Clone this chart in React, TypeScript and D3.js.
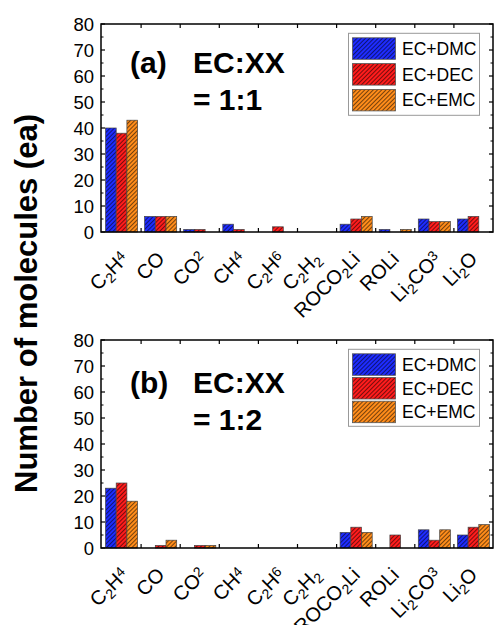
import React from 'react';
import * as d3 from 'd3';

// categories (x) and their rich labels: [text, shift]
const categories = ['C2H4', 'CO', 'CO2', 'CH4', 'C2H6', 'C2H2', 'ROCO2Li', 'ROLi', 'Li2CO3', 'Li2O'];
const tickLabels: [string, string][][] = [
  [['C', ''], ['2', 'sub'], ['H', ''], ['4', 'sup']],
  [['CO', '']],
  [['CO', ''], ['2', 'sup']],
  [['CH', ''], ['4', 'sup']],
  [['C', ''], ['2', 'sub'], ['H', ''], ['6', 'sup']],
  [['C', ''], ['2', 'sub'], ['H', ''], ['2', 'sub']],
  [['ROCO', ''], ['2', 'sub'], ['Li', '']],
  [['ROLi', '']],
  [['Li', ''], ['2', 'sub'], ['CO', ''], ['3', 'sup']],
  [['Li', ''], ['2', 'sub'], ['O', '']],
];

const seriesNames = ['EC+DMC', 'EC+DEC', 'EC+EMC'];
const seriesColors = ['#1e2cff', '#ff1c1c', '#ff8c1a'];

// panel (a) EC:XX = 1:1
const dmc11 = [40, 6, 1, 3, 0, 0, 3, 1, 5, 5];
const dec11 = [38, 6, 1, 1, 2, 0, 5, 0, 4, 6];
const emc11 = [43, 6, 0, 0, 0, 0, 6, 1, 4, 0];
// panel (b) EC:XX = 1:2
const dmc12 = [23, 0, 0, 0, 0, 0, 6, 0, 7, 5];
const dec12 = [25, 1, 1, 0, 0, 0, 8, 5, 3, 8];
const emc12 = [18, 3, 1, 0, 0, 0, 6, 0, 7, 9];

const yTicks = [0, 10, 20, 30, 40, 50, 60, 70, 80];

const FONT = '"Liberation Sans", Arial, sans-serif';
const left = 101;
const right = 493;

const panels = [
  { id: 'a', tag: '(a)', ratio: '= 1:1', top: 24, bottom: 232, values: [dmc11, dec11, emc11], textDy: 0, legStep: 25.8, legH: 82 },
  { id: 'b', tag: '(b)', ratio: '= 1:2', top: 340, bottom: 548, values: [dmc12, dec12, emc12], textDy: 4, legStep: 23.7, legH: 77 },
];

const x = d3.scaleBand().domain(categories).range([102, right]).paddingInner(0).paddingOuter(0);
const inner = d3
  .scaleBand()
  .domain(seriesNames)
  .range([3.5, x.bandwidth() - 3.5])
  .padding(0);

const Panel = ({ p }) => {
  const y = d3.scaleLinear().domain([0, 80]).range([p.bottom, p.top]);
  const minor = d3.range(5, 80, 10);
  const bounds = categories.slice(1).map(c => x(c));
  const legX = 348.5;
  const legY = p.top + 9.3;
  return (
    <g>
      {/* bars */}
      {p.values.map((vals, si) => (
        <g key={si} fill={`url(#hatch${si})`} stroke="#444" strokeWidth={0.7}>
          {vals.map((v, ci) =>
            v > 0 ? (
              <rect
                key={ci}
                x={x(categories[ci]) + inner(seriesNames[si])}
                y={y(v)}
                width={inner.bandwidth()}
                height={y(0) - y(v)}
              />
            ) : null
          )}
        </g>
      ))}

      {/* frame */}
      <rect x={left} y={p.top} width={right - left} height={p.bottom - p.top} fill="none" stroke="#000" strokeWidth={1.5} />

      {/* y ticks left & right */}
      {yTicks.map(t => (
        <g key={t}>
          <line x1={left} x2={left + 4} y1={y(t)} y2={y(t)} stroke="#000" strokeWidth={1.2} />
          <line x1={right} x2={right - 4} y1={y(t)} y2={y(t)} stroke="#000" strokeWidth={1.2} />
          <text x={94} y={y(t)} dy="0.36em" textAnchor="end" fontSize={18.5} fontFamily={FONT}>
            {t}
          </text>
        </g>
      ))}
      {minor.map(t => (
        <g key={t}>
          <line x1={left} x2={left + 2.5} y1={y(t)} y2={y(t)} stroke="#000" strokeWidth={1} />
          <line x1={right} x2={right - 2.5} y1={y(t)} y2={y(t)} stroke="#000" strokeWidth={1} />
        </g>
      ))}

      {/* x ticks top & bottom */}
      {bounds.map((bx, i) => (
        <g key={i}>
          <line x1={bx} x2={bx} y1={p.bottom} y2={p.bottom - 4} stroke="#000" strokeWidth={1.2} />
          <line x1={bx} x2={bx} y1={p.top} y2={p.top + 4} stroke="#000" strokeWidth={1.2} />
        </g>
      ))}

      {/* x labels */}
      {categories.map((c, i) => {
        const parts = tickLabels[i];
        const endsSup = parts[parts.length - 1][1] === 'sup';
        const cx = x(c) + x.bandwidth() / 2 + (endsSup ? 8 : 5);
        const cy = p.bottom + 28;
        return (
          <text
            key={c}
            transform={`translate(${cx},${cy}) rotate(-45)`}
            textAnchor="end"
            fontSize={20}
            fontFamily={FONT}
          >
            {parts.map(([s, k], j) =>
              k === '' ? (
                <tspan key={j}>{s}</tspan>
              ) : (
                <tspan key={j} fontSize={14} baselineShift={k === 'sub' ? '-4' : '5'}>
                  {s}
                </tspan>
              )
            )}
          </text>
        );
      })}

      {/* panel annotation */}
      <g fontFamily={FONT} fontWeight="bold" fontSize={30}>
        <text x={130} y={p.top + 49 + p.textDy}>{p.tag}</text>
        <text x={193} y={p.top + 49 + p.textDy}>EC:XX</text>
        <text x={193} y={p.top + 86 + p.textDy}>{p.ratio}</text>
      </g>

      {/* legend */}
      <rect x={legX} y={legY} width={131} height={p.legH} fill="#fff" stroke="#999" strokeWidth={1} />
      {seriesNames.map((s, i) => {
        const sy = legY + 4.5 + i * p.legStep;
        return (
          <g key={s}>
            <rect x={352.5} y={sy} width={43} height={21.5} fill={`url(#hatch${i})`} stroke="#555" strokeWidth={0.8} />
            <text x={402} y={sy + 17} fontSize={17.5} fontFamily={FONT}>
              {s}
            </text>
          </g>
        );
      })}
    </g>
  );
};

export default function App() {
  return (
    <svg
      width={494}
      height={625}
      viewBox="0 0 494 625"
      style={{ position: 'absolute', left: 0, top: 0, background: '#fff' }}
    >
      <defs>
        {seriesColors.map((col, i) => (
          <pattern
            key={i}
            id={`hatch${i}`}
            patternUnits="userSpaceOnUse"
            width={3}
            height={3}
            patternTransform="rotate(45)"
          >
            <rect width={3} height={3} fill={col} />
            <line x1={0.5} y1={0} x2={0.5} y2={3} stroke="#000" strokeOpacity={0.6} strokeWidth={0.9} />
          </pattern>
        ))}
      </defs>
      <rect width={494} height={625} fill="#fff" />
      {panels.map(p => (
        <Panel key={p.id} p={p} />
      ))}
      <text
        transform="translate(37,303.5) rotate(-90)"
        textAnchor="middle"
        fontSize={31}
        fontWeight="bold"
        fontFamily={FONT}
      >
        Number of molecules (ea)
      </text>
    </svg>
  );
}
